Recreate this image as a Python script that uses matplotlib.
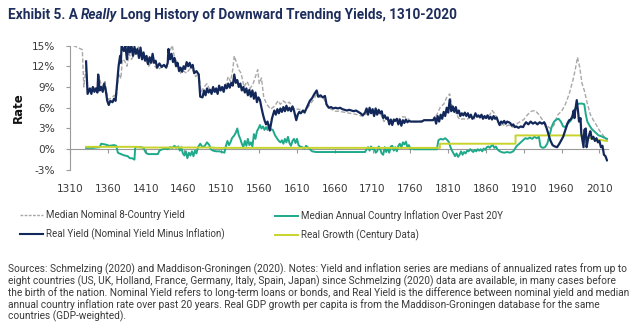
import matplotlib
matplotlib.use("Agg")
import matplotlib.pyplot as plt
from matplotlib.lines import Line2D
import numpy as np

# ---------------- data ----------------
nominal_years = [1314, 1326, 1328, 1331, 1333, 1340, 1346, 1348, 1352, 1356, 1360, 1365, 1368, 1371,
                 1374, 1377, 1379, 1382, 1385, 1388, 1391, 1394, 1397, 1400, 1403, 1406, 1410, 1414,
                 1418, 1422, 1426, 1430, 1434, 1438, 1441, 1445, 1448, 1452, 1456, 1460, 1464, 1468,
                 1472, 1476, 1480, 1483, 1487, 1491, 1495, 1499, 1503, 1507, 1511, 1515, 1519, 1522,
                 1525, 1527, 1530, 1533, 1536, 1540, 1544, 1548, 1552, 1555, 1558, 1560, 1563, 1566,
                 1570, 1575, 1580, 1585, 1588, 1592, 1596, 1600, 1603, 1607, 1612, 1616, 1620, 1624,
                 1628, 1632, 1636, 1640, 1645, 1650, 1655, 1660, 1665, 1670, 1675, 1680, 1685, 1690,
                 1695, 1700, 1705, 1710, 1715, 1720, 1725, 1728, 1732, 1736, 1740, 1745, 1750, 1755,
                 1760, 1765, 1770, 1780, 1790, 1795, 1800, 1804, 1808, 1812, 1815, 1820, 1825, 1830,
                 1835, 1840, 1845, 1850, 1855, 1860, 1865, 1868, 1871, 1875, 1878, 1882, 1886, 1890,
                 1895, 1900, 1905, 1910, 1915, 1920, 1925, 1930, 1935, 1940, 1945, 1950, 1955, 1960,
                 1965, 1970, 1975, 1978, 1981, 1984, 1987, 1990, 1994, 1998, 2002, 2006, 2010, 2015, 2020]
nominal_vals = [15.0, 14.4, 9.0, 12.0, 8.2, 9.0, 8.5, 10.5, 9.0, 9.8, 7.2, 7.4, 7.8, 7.5,
                11.0, 10.2, 13.0, 12.8, 12.0, 13.8, 13.0, 13.5, 14.0, 14.8, 14.5, 13.3, 12.8, 12.0,
                12.8, 12.0, 11.5, 11.8, 12.0, 12.0, 14.0, 15.0, 13.2, 12.5, 11.0, 11.3, 11.0, 11.6,
                11.5, 10.5, 11.0, 8.3, 9.0, 9.5, 8.5, 8.8, 8.2, 8.5, 8.8, 9.0, 10.5, 9.8,
                11.5, 13.5, 12.5, 11.5, 11.0, 9.0, 9.8, 8.8, 9.5, 10.5, 11.5, 9.5, 10.3, 7.5,
                6.5, 5.8, 6.2, 7.0, 6.5, 7.0, 6.6, 6.8, 6.2, 5.8, 5.8, 5.6, 5.5, 6.0,
                6.6, 7.2, 8.0, 7.5, 7.4, 6.2, 5.8, 5.5, 5.5, 5.4, 5.3, 5.2, 5.1, 5.0,
                4.8, 4.9, 5.5, 5.2, 5.0, 5.3, 4.0, 4.4, 4.0, 3.8, 4.2, 4.4, 4.7, 4.6,
                4.1, 4.0, 4.0, 4.2, 4.2, 5.0, 6.2, 6.5, 7.5, 8.0, 6.2, 5.2, 4.3, 4.4,
                4.3, 4.8, 4.4, 4.8, 4.6, 4.6, 5.0, 5.6, 5.2, 4.4, 3.4, 3.6, 3.3, 3.5,
                3.2, 3.6, 4.0, 4.3, 5.0, 5.5, 5.6, 5.0, 4.2, 3.5, 3.0, 3.5, 5.0, 5.5,
                6.5, 8.0, 10.0, 11.5, 13.3, 11.8, 9.5, 8.5, 6.6, 5.0, 4.2, 3.5, 2.7, 2.0, 1.3]

real_years = [1331, 1333, 1336, 1338, 1340, 1342, 1344, 1346, 1347, 1349, 1351, 1353, 1355, 1357,
              1359, 1361, 1363, 1366, 1368, 1370, 1372, 1374, 1376, 1377, 1378, 1381, 1383, 1385,
              1387, 1389, 1391, 1393, 1395, 1397, 1399, 1401, 1403, 1405, 1407, 1409, 1411, 1413,
              1415, 1417, 1419, 1421, 1423, 1425, 1428, 1431, 1434, 1437, 1439, 1440, 1442, 1444,
              1446, 1448, 1450, 1452, 1454, 1456, 1458, 1460, 1462, 1464, 1466, 1468, 1470, 1472,
              1474, 1477, 1480, 1482, 1485, 1487, 1489, 1491, 1493, 1495, 1497, 1499, 1501, 1503,
              1505, 1507, 1509, 1511, 1513, 1515, 1517, 1519, 1521, 1523, 1525, 1527, 1529, 1531,
              1533, 1535, 1537, 1539, 1541, 1543, 1545, 1547, 1549, 1551, 1553, 1555, 1557, 1559,
              1561, 1563, 1565, 1567, 1569, 1571, 1574, 1577, 1580, 1582, 1584, 1586, 1588, 1590,
              1592, 1594, 1596, 1598, 1600, 1602, 1604, 1606, 1609, 1611, 1613, 1615, 1618, 1620,
              1622, 1625, 1627, 1630, 1633, 1636, 1638, 1641, 1644, 1647, 1649, 1652, 1655, 1658,
              1661, 1664, 1667, 1670, 1673, 1676, 1679, 1682, 1685, 1688, 1691, 1694, 1697, 1700,
              1702, 1704, 1706, 1708, 1710, 1712, 1714, 1716, 1718, 1720, 1722, 1724, 1726, 1728,
              1730, 1732, 1734, 1736, 1738, 1740, 1742, 1744, 1746, 1748, 1750, 1752, 1754, 1756,
              1758, 1760, 1765, 1770, 1775, 1778, 1782, 1786, 1790, 1792, 1794, 1796, 1798, 1800,
              1802, 1804, 1806, 1808, 1810, 1812, 1814, 1816, 1818, 1820, 1822, 1824, 1826, 1828,
              1830, 1832, 1834, 1836, 1838, 1840, 1842, 1844, 1846, 1848, 1850, 1852, 1854, 1856,
              1858, 1860, 1862, 1864, 1866, 1868, 1870, 1872, 1874, 1876, 1878, 1880, 1882, 1884,
              1886, 1888, 1890, 1892, 1894, 1896, 1898, 1900, 1903, 1906, 1909, 1911, 1913, 1916,
              1919, 1922, 1925, 1928, 1931, 1934, 1937, 1940, 1943, 1945, 1948, 1951, 1954, 1957,
              1960, 1962, 1965, 1968, 1970, 1972, 1974, 1976, 1977, 1978, 1980, 1982, 1983, 1985,
              1986, 1988, 1989, 1990, 1992, 1993, 1995, 1997, 1998, 2000, 2002, 2004, 2006, 2008,
              2010, 2012, 2014, 2016, 2018, 2020]
real_vals = [12.7, 8.0, 8.8, 8.0, 9.0, 8.3, 8.8, 8.2, 10.8, 8.5, 9.0, 8.3, 9.5, 8.5,
             7.0, 6.4, 7.0, 6.8, 7.3, 7.0, 9.5, 12.0, 13.5, 12.5, 15.0, 14.2, 15.0, 13.0,
             15.0, 14.0, 15.0, 13.5, 14.8, 13.8, 14.5, 13.2, 14.7, 13.0, 14.0, 12.8, 13.5, 12.3,
             13.3, 12.5, 13.8, 12.5, 12.8, 11.8, 12.4, 11.9, 12.2, 11.8, 12.5, 14.5, 13.0, 13.8,
             12.6, 13.2, 12.0, 12.5, 11.3, 11.8, 11.2, 12.0, 11.6, 12.6, 12.0, 12.5, 11.8, 12.2,
             11.0, 11.3, 10.8, 7.6, 7.5, 8.5, 7.8, 8.8, 8.2, 8.6, 8.0, 9.0, 8.3, 8.8,
             8.0, 9.2, 8.5, 9.0, 8.3, 9.3, 8.8, 9.5, 8.9, 9.6, 9.2, 10.8, 9.6, 10.0,
             9.0, 9.5, 8.5, 9.0, 8.2, 8.8, 7.8, 8.6, 7.6, 8.5, 7.3, 8.2, 6.8, 7.5,
             7.1, 6.0, 5.0, 4.2, 3.6, 4.0, 2.7, 4.5, 5.6, 5.0, 5.8, 5.2, 5.9, 5.4,
             6.1, 5.5, 6.3, 5.6, 6.0, 5.5, 6.2, 5.6, 4.2, 5.0, 5.4, 5.2, 5.6, 5.3,
             5.8, 6.5, 7.0, 7.4, 8.0, 8.5, 7.6, 7.8, 7.5, 7.7, 6.5, 6.0, 6.1, 5.9,
             6.0, 5.9, 6.0, 5.8, 5.7, 5.6, 5.7, 5.6, 5.5, 5.6, 5.4, 5.2, 4.9, 5.3,
             5.9, 5.0, 6.0, 5.2, 5.8, 4.8, 5.9, 5.0, 5.7, 5.2, 5.5, 4.5, 4.9, 4.4,
             4.6, 3.6, 4.3, 3.5, 4.3, 4.1, 4.4, 3.6, 4.3, 3.4, 4.2, 3.8, 4.3, 3.9,
             4.1, 4.0, 4.0, 4.0, 4.0, 4.2, 4.2, 4.2, 4.2, 4.6, 3.7, 4.8, 4.0, 5.0,
             4.4, 5.4, 4.8, 6.0, 5.3, 7.2, 5.5, 6.2, 5.4, 6.1, 5.2, 5.6, 4.8, 5.2,
             4.9, 5.3, 4.8, 5.2, 4.6, 5.0, 4.4, 4.6, 5.2, 4.7, 4.9, 4.6, 5.0, 4.4,
             4.8, 4.5, 4.9, 4.4, 4.7, 4.3, 4.8, 4.4, 4.6, 4.0, 3.5, 4.0, 3.8, 4.1,
             3.7, 4.0, 3.9, 3.8, 3.4, 3.6, 3.2, 3.3, 3.1, 3.3, 3.2, 3.6, 3.9, 3.6,
             4.0, 3.7, 3.9, 3.6, 3.9, 3.7, 3.9, 3.1, 2.0, 1.3, 0.6, 0.4, 0.3, 0.8,
             1.4, 1.8, 2.8, 3.8, 4.2, 4.3, 4.7, 5.6, 4.5, 5.6, 7.1, 5.2, 4.0, 4.5,
             2.3, 1.0, 0.3, 2.8, 3.0, 0.3, 1.5, 2.3, 2.6, 1.5, 1.8, 1.2, 1.6, 1.0,
             1.2, 0.3, 0.5, -0.8, -1.0, -1.6]

infl_years = [1331, 1340, 1349, 1351, 1356, 1362, 1368, 1371, 1373, 1377, 1382, 1386, 1389, 1392,
              1395, 1396, 1403, 1407, 1410, 1413, 1420, 1426, 1428, 1432, 1436, 1439, 1442, 1445,
              1448, 1450, 1453, 1455, 1457, 1459, 1461, 1463, 1465, 1467, 1469, 1471, 1473, 1475,
              1477, 1479, 1482, 1485, 1488, 1491, 1494, 1496, 1499, 1503, 1507, 1511, 1514, 1516,
              1518, 1520, 1522, 1524, 1527, 1529, 1531, 1533, 1535, 1537, 1539, 1541, 1543, 1545,
              1547, 1549, 1551, 1553, 1555, 1557, 1559, 1561, 1563, 1565, 1567, 1569, 1571, 1573,
              1575, 1578, 1581, 1584, 1586, 1588, 1590, 1592, 1594, 1596, 1598, 1600, 1602, 1604,
              1606, 1608, 1610, 1612, 1614, 1617, 1620, 1622, 1624, 1627, 1630, 1635, 1700, 1702,
              1704, 1706, 1708, 1710, 1712, 1714, 1716, 1718, 1720, 1722, 1724, 1726, 1728, 1730,
              1732, 1734, 1736, 1738, 1740, 1742, 1744, 1746, 1748, 1750, 1752, 1754, 1756, 1758,
              1760, 1762, 1764, 1795, 1797, 1800, 1803, 1806, 1809, 1811, 1813, 1815, 1817, 1819,
              1821, 1823, 1825, 1827, 1829, 1831, 1833, 1835, 1837, 1839, 1841, 1843, 1845, 1847,
              1849, 1851, 1853, 1855, 1857, 1859, 1861, 1863, 1865, 1867, 1869, 1871, 1873, 1875,
              1877, 1880, 1884, 1888, 1892, 1896, 1898, 1900, 1903, 1906, 1909, 1912, 1915, 1918,
              1921, 1924, 1927, 1930, 1932, 1935, 1938, 1941, 1944, 1947, 1950, 1953, 1956, 1959,
              1962, 1965, 1968, 1971, 1974, 1977, 1980, 1983, 1987, 1990, 1992, 1994, 1997, 2000,
              2003, 2006, 2009, 2012, 2016, 2020]
infl_vals = [0.2, 0.2, 0.3, 0.8, 0.7, 0.5, 0.6, 0.5, -0.5, -0.7, -0.9, -1.0, -1.3, -1.3,
             -1.5, 0.3, 0.3, 0.2, -0.5, -0.7, -0.7, -0.7, -0.2, 0.0, 0.1, 0.0, 0.3, 0.2,
             0.5, 0.2, 0.4, -0.2, 0.3, -0.6, -0.9, -0.3, -1.3, -0.5, -0.9, -0.3, -1.0, -0.2,
             -0.6, 0.3, 0.8, 0.3, 0.5, 1.0, 0.6, 0.0, -0.2, -0.3, -0.3, -0.4, -0.5, 0.5,
             1.2, 0.6, 1.0, 1.6, 2.0, 2.4, 3.0, 2.0, 1.5, 0.8, 0.3, 1.2, 0.5, 1.5,
             0.6, 1.0, 0.4, 2.2, 1.5, 2.6, 3.0, 3.5, 3.0, 3.3, 2.8, 3.2, 2.8, 3.5,
             2.9, 2.8, 2.0, 1.5, 1.2, 1.0, 1.3, 0.8, 1.5, 1.0, 1.8, 0.9, 0.5, 1.2,
             1.5, 0.9, 1.5, 0.6, 0.4, 0.3, 0.1, 0.5, 0.3, 0.0, -0.3, -0.4, -0.4, 0.0,
             0.3, -0.2, 0.4, 0.0, 0.2, -0.5, -0.3, 0.4, 0.0, -0.6, -0.8, 0.3, -0.4, 0.2,
             -0.5, 0.4, 0.5, -0.2, 0.3, -0.3, 0.5, 0.8, 0.2, 1.0, 0.7, 1.1, 0.3, 0.6,
             0.0, 0.2, 0.0, 0.0, 1.3, 1.5, 1.4, 1.6, 1.3, 1.0, 0.3, -0.2, -0.6, -1.0,
             -0.6, -1.1, -0.8, -0.3, -0.8, -0.4, -0.6, -0.2, -0.3, 0.0, -0.2, -0.4, -0.1, -0.3,
             0.0, -0.2, 0.0, -0.3, 0.1, -0.1, 0.3, 0.4, 0.2, 0.5, 0.6, 0.2, 0.4, 0.0,
             -0.2, -0.4, -0.5, -0.4, -0.5, -0.3, 0.0, 0.4, 0.7, 1.0, 1.3, 1.6, 1.5, 1.7,
             1.5, 1.8, 1.6, 1.8, 0.4, 0.2, 0.3, 0.8, 2.0, 3.3, 4.0, 4.3, 4.4, 4.0,
             3.3, 3.2, 3.7, 4.0, 4.5, 5.5, 6.4, 6.6, 6.6, 6.5, 5.0, 4.0, 3.4, 2.9,
             2.6, 2.3, 2.0, 1.9, 1.7, 1.5]

growth_years = [1331, 1400, 1400, 1500, 1500, 1600, 1600, 1700, 1700, 1799, 1799, 1899, 1899, 1990, 2000, 2020]
growth_vals = [0.35, 0.35, 0.25, 0.25, 0.2, 0.2, 0.2, 0.2, 0.2, 0.2, 0.8, 0.8, 2.0, 2.0, 1.5, 1.2]

x_ticks = list(range(1310, 2011, 50))
y_ticks = [-3, 0, 3, 6, 9, 12, 15]

title_parts = ["Exhibit 5. A ", "Really", " Long History of Downward Trending Yields, 1310-2020"]
legend_labels = ["Median Nominal 8-Country Yield", "Real Yield (Nominal Yield Minus Inflation)",
                 "Median Annual Country Inflation Over Past 20Y", "Real Growth (Century Data)"]
footnote = ("Sources: Schmelzing (2020) and Maddison-Groningen (2020). Notes: Yield and inflation series are medians of annualized rates from up to\n"
            "eight countries (US, UK, Holland, France, Germany, Italy, Spain, Japan) since Schmelzing (2020) data are available, in many cases before\n"
            "the birth of the nation. Nominal Yield refers to long-term loans or bonds, and Real Yield is the difference between nominal yield and median\n"
            "annual country inflation rate over past 20 years. Real GDP growth per capita is from the Maddison-Groningen database for the same\n"
            "countries (GDP-weighted).")

# ---------------- style ----------------
NAVY = "#13285a"
GREEN = "#1ea98b"
YELLOW = "#c8d32c"
GRAY = "#a8a8a8"
AXIS = "#9a9a9a"
TXT = "#3a3a3a"
NARROW = ["Roboto", "DejaVu Sans"]

W, H = 641, 327
fig = plt.figure(figsize=(W / 100, H / 100), dpi=100)
fig.patch.set_facecolor("white")

ax_l, ax_r, ax_t, ax_b = 70.2, 608.5, 45.5, 170.0
ax = fig.add_axes([ax_l / W, 1 - ax_b / H, (ax_r - ax_l) / W, (ax_b - ax_t) / H])

ax.plot(nominal_years, nominal_vals, color=GRAY, lw=1.0, ls=(0, (3, 1.5)), zorder=2)
ax.plot(infl_years, infl_vals, color=GREEN, lw=1.4, zorder=3)
ax.plot(growth_years, growth_vals, color=YELLOW, lw=1.4, zorder=4)
ax.plot(real_years, real_vals, color=NAVY, lw=1.6, zorder=5)

ax.set_xlim(1310, 2022)
ax.set_ylim(-3, 15)
ax.set_xticks(x_ticks)
ax.set_xticklabels([str(v) for v in x_ticks])
ax.set_yticks(y_ticks)
ax.set_yticklabels([f"{v}%" for v in y_ticks])
for s in ["top", "right", "bottom"]:
    ax.spines[s].set_visible(False)
ax.spines["left"].set_color(AXIS)
ax.spines["left"].set_linewidth(0.8)
ax.tick_params(axis="x", length=0, pad=10, labelsize=7.6, labelcolor=TXT)
ax.tick_params(axis="y", length=3, width=0.8, color=AXIS, pad=8, labelsize=7.6, labelcolor=TXT)

# zero line with tick marks
zero_frac = (0 - (-3)) / (15 - (-3))
sec = ax.secondary_xaxis(zero_frac)
sec.set_xticks(x_ticks)
sec.tick_params(axis="x", length=3, width=0.8, color=AXIS, labelbottom=False, labeltop=False,
                direction="out")
sec.spines["bottom"].set_color(AXIS)
sec.spines["bottom"].set_linewidth(0.8)
sec.spines["top"].set_color(AXIS)
sec.spines["top"].set_linewidth(0.8)

ax.set_ylabel("Rate", fontsize=8.5, fontweight="bold", color="#111111", labelpad=5)

# ---------------- title ----------------
fig.canvas.draw()
renderer = fig.canvas.get_renderer()
x = 8 / W
ty = 1 - 15 / H
styles = ["normal", "italic", "normal"]
for part, st in zip(title_parts, styles):
    t = fig.text(x, ty, part, fontsize=9.85, fontweight="bold", fontstyle=st, color="#1d2d5c",
                 family=["Roboto", "DejaVu Sans"], va="center", ha="left")
    bb = t.get_window_extent(renderer=renderer)
    x = bb.x1 / W

# ---------------- legend ----------------
handles = [Line2D([], [], color=GRAY, lw=1.0, ls=(0, (2, 1))),
           Line2D([], [], color=NAVY, lw=1.5),
           Line2D([], [], color=GREEN, lw=1.4),
           Line2D([], [], color=YELLOW, lw=1.4)]
for i, xpos in enumerate([20, 275]):
    leg = fig.legend(handles[2 * i:2 * i + 2], legend_labels[2 * i:2 * i + 2],
                     loc="upper left", bbox_to_anchor=(xpos / W, 1 - 210 / H),
                     frameon=False, borderpad=0, borderaxespad=0, handlelength=2.4,
                     handletextpad=0.3, labelspacing=0.85,
                     prop={"family": NARROW, "size": 7.0})
    for txt in leg.get_texts():
        txt.set_color(TXT)

# ---------------- footnote ----------------
fig.text(8 / W, 1 - 263 / H, footnote, fontsize=7.25, color=TXT, family=NARROW,
         va="top", ha="left", linespacing=1.08)

fig.savefig("out.png", dpi=100, facecolor="white")
